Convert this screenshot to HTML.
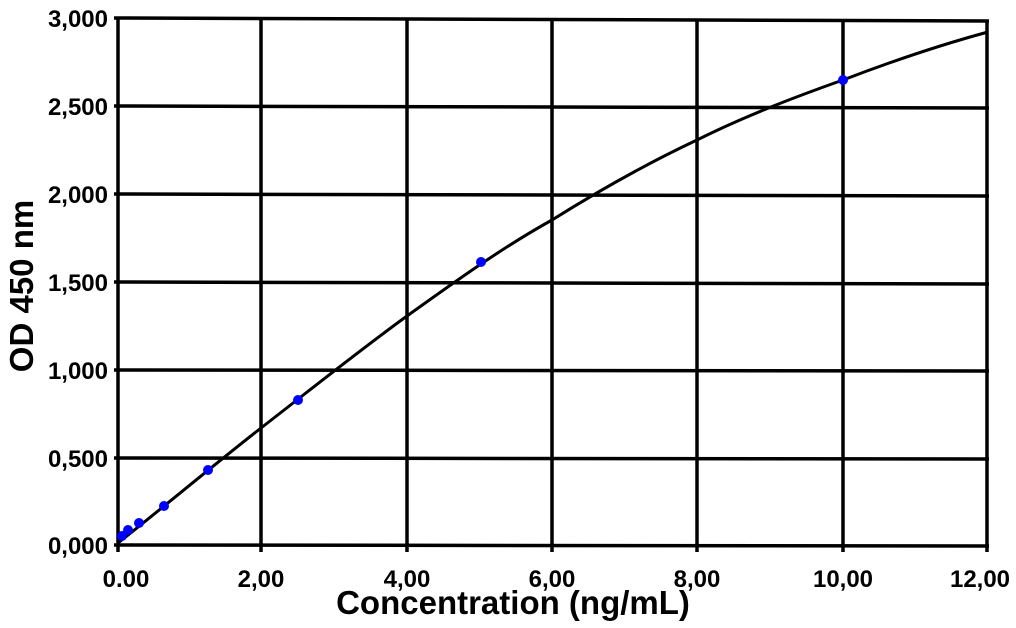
<!DOCTYPE html>
<html><head><meta charset="utf-8"><style>body{margin:0;background:#fff}</style></head><body>
<svg width="1016" height="623" xmlns="http://www.w3.org/2000/svg" font-family="Liberation Sans, sans-serif" font-weight="bold">
<g stroke="#000" stroke-width="3.5" fill="none">
<line x1="114" y1="18" x2="989" y2="21"/>
<line x1="114" y1="106" x2="989" y2="108"/>
<line x1="114" y1="194" x2="989" y2="196"/>
<line x1="114" y1="282" x2="989" y2="284"/>
<line x1="114" y1="370" x2="989" y2="371"/>
<line x1="114" y1="458" x2="989" y2="459"/>
<line x1="114" y1="545" x2="989" y2="546"/>
<line x1="118" y1="17" x2="118" y2="552"/>
<line x1="261" y1="18" x2="261" y2="552"/>
<line x1="407" y1="18" x2="407" y2="552"/>
<line x1="552" y1="19" x2="552" y2="552"/>
<line x1="697" y1="19" x2="697" y2="552"/>
<line x1="843" y1="20" x2="843" y2="552"/>
<line x1="987" y1="20" x2="987" y2="552"/>
</g>
<path d="M118,543 C160,510 210,468 261,428 C310,390 360,350 407,316 C460,278 505,246 552,220 C600,190 650,162 697,140 C745,116 795,97 843,80 C890,62 940,45 988,32" stroke="#000" stroke-width="3" fill="none"/>
<g fill="#0000ff">
<circle cx="122" cy="536" r="5"/><circle cx="128" cy="530" r="5"/><circle cx="139" cy="523" r="5"/><circle cx="164" cy="506" r="5"/><circle cx="208" cy="470" r="5"/><circle cx="298" cy="400" r="5"/><circle cx="481" cy="262" r="5"/><circle cx="843" cy="80" r="5"/>
</g>
<g font-size="24" text-anchor="end">
<text x="108" y="27">3,000</text><text x="108" y="115">2,500</text><text x="108" y="203">2,000</text><text x="108" y="291">1,500</text><text x="108" y="379">1,000</text><text x="108" y="467">0,500</text><text x="108" y="554">0,000</text>
</g>
<g font-size="24" text-anchor="middle">
<text x="126" y="587">0.00</text><text x="261" y="587">2,00</text><text x="407" y="587">4,00</text><text x="552" y="587">6,00</text><text x="697" y="587">8,00</text><text x="843" y="587">10,00</text><text x="980" y="587">12,00</text>
</g>
<text x="513" y="614" font-size="33" text-anchor="middle">Concentration (ng/mL)</text>
<text transform="translate(33,286) rotate(-90)" font-size="33" text-anchor="middle">OD 450 nm</text>
</svg>
</body></html>
